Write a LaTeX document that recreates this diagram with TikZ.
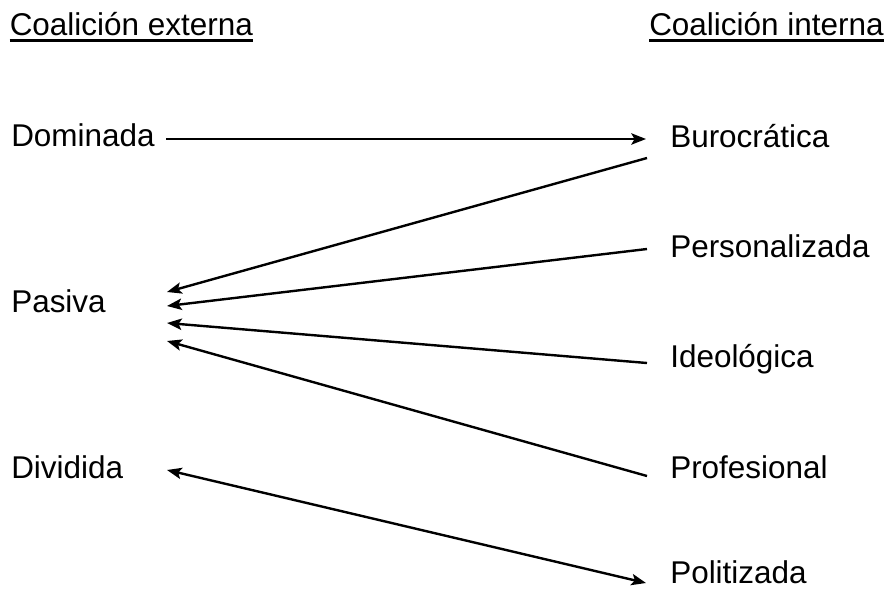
\documentclass[tikz,border=0pt]{standalone}
\usepackage{fontspec}
\setmainfont{Liberation Sans}
\usetikzlibrary{arrows.meta}

\tikzset{
    lbl/.style = {inner sep = 0pt, anchor = base west, font = \fontsize{23.6pt}{28pt}\selectfont},
    con/.style = {line width = 1.8pt, -{Stealth[length = 11pt, width = 8.5pt, inset = 2.4pt]}},
    twocon/.style = {line width = 1.8pt, {Stealth[length = 11pt, width = 8.5pt, inset = 2.4pt]}-{Stealth[length = 11pt, width = 8.5pt, inset = 2.4pt]}},
    uline/.style = {line width = 1.9pt}
}

\begin{document}
\begin{tikzpicture}[x = 0.75pt, y = -0.75pt]
        \useasboundingbox (0, 0) rectangle (888, 589);

        % headings
        \node[lbl] (ext) at (9.5, 36) {Coalición externa};
        \node[lbl] (int) at (649, 36) {Coalición interna};
        \draw[uline] ([yshift = -3.5pt]ext.base west) -- ([yshift = -3.5pt]ext.base east);
        \draw[uline] ([yshift = -3.5pt]int.base west) -- ([yshift = -3.5pt]int.base east);

        % left column
        \node[lbl] (dom) at (11, 146) {Dominada};
        \node[lbl] (pas) at (11, 312) {Pasiva};
        \node[lbl] (div) at (11, 478) {Dividida};

        % right column
        \node[lbl] (buro) at (670, 147) {Burocrática};
        \node[lbl] (pers) at (670, 257) {Personalizada};
        \node[lbl] (ideo) at (670, 367) {Ideológica};
        \node[lbl] (prof) at (670, 478) {Profesional};
        \node[lbl] (poli) at (670, 583.5) {Politizada};

        % line ends
        \coordinate (dom-out) at (166, 139);
        \coordinate (buro-in) at (646, 139);
        \coordinate (buro-out) at (647, 158);
        \coordinate (pers-out) at (647, 249);
        \coordinate (ideo-out) at (647, 363);
        \coordinate (prof-out) at (647, 476);
        \coordinate (pas-1) at (167, 292);
        \coordinate (pas-2) at (167, 306);
        \coordinate (pas-3) at (167, 323);
        \coordinate (pas-4) at (167, 341);
        \coordinate (div-in) at (167, 470);
        \coordinate (poli-in) at (646, 583);

        \draw[con] (dom-out) -- (buro-in);
        \draw[con] (buro-out) -- (pas-1);
        \draw[con] (pers-out) -- (pas-2);
        \draw[con] (ideo-out) -- (pas-3);
        \draw[con] (prof-out) -- (pas-4);
        \draw[twocon] (div-in) -- (poli-in);
    \end{tikzpicture}
\end{document}
